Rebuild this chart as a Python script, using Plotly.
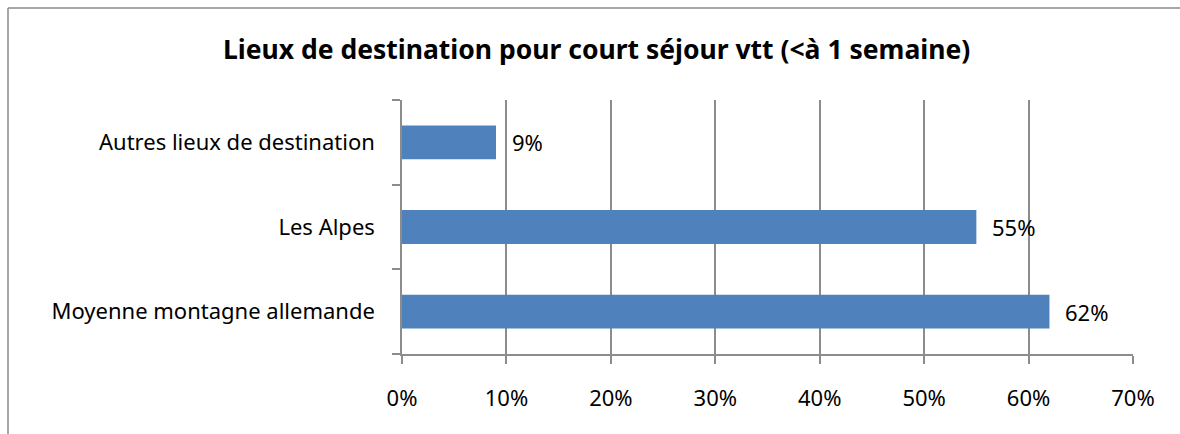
import plotly.graph_objects as go

categories = ["Moyenne montagne allemande", "Les Alpes", "Autres lieux de destination"]
values = [0.62, 0.55, 0.09]
value_labels = ["62%", "55%", "9%"]
x_ticks = [0, 0.1, 0.2, 0.3, 0.4, 0.5, 0.6, 0.7]
x_tick_labels = ["0%", "10%", "20%", "30%", "40%", "50%", "60%", "70%"]
title_text = "Lieux de destination pour court séjour vtt (<à 1 semaine)"

W, H = 1180, 434
L, R, T, B = 402, 47, 100, 80
FONT = "Noto Sans"
FS = 22
GRID = "#8c8c8c"

def px_x(p):
    return (p - L) / (W - L - R)

def px_y(p):
    return 1 - (p - T) / (H - T - B)

fig = go.Figure()
fig.add_trace(go.Bar(
    y=categories, x=values, orientation="h",
    marker=dict(color="#4F81BD", line=dict(width=0)),
    width=0.4, hoverinfo="skip",
))

for c, v, t in zip(categories, values, value_labels):
    fig.add_annotation(x=v, y=c, text=t, showarrow=False, xanchor="left",
                       yanchor="middle", xshift=14,
                       font=dict(family=FONT, size=FS, color="#000"))

fig.add_annotation(x=px_x(596), y=px_y(49), xref="paper", yref="paper",
                   text="<b>" + title_text + "</b>", showarrow=False,
                   xanchor="center", yanchor="middle",
                   font=dict(family=FONT, size=26.5, color="#000"))

# chart border (top and left visible)
fig.add_shape(type="line", xref="paper", yref="paper",
              x0=px_x(8), x1=px_x(1185), y0=px_y(8), y1=px_y(8),
              line=dict(color="#8a8a8a", width=1.5))
fig.add_shape(type="line", xref="paper", yref="paper",
              x0=px_x(8), x1=px_x(8), y0=px_y(8), y1=px_y(440),
              line=dict(color="#8a8a8a", width=1.5))

fig.update_layout(
    width=W, height=H,
    margin=dict(l=L, r=R, t=T, b=B),
    paper_bgcolor="white", plot_bgcolor="white",
    showlegend=False,
    font=dict(family=FONT, size=FS, color="#000"),
    xaxis=dict(range=[0, 0.7], tickvals=x_ticks, ticktext=x_tick_labels,
               showgrid=True, gridcolor=GRID, gridwidth=1.5,
               showline=True, linecolor=GRID, linewidth=1.5,
               ticks="outside", ticklen=8, tickcolor=GRID, tickwidth=1.5,
               zeroline=False, ticklabelstandoff=16,
               tickfont=dict(family=FONT, size=FS, color="#000")),
    yaxis=dict(categoryorder="array", categoryarray=categories,
               showgrid=False, showline=True, linecolor=GRID, linewidth=1.5,
               ticks="outside", ticklen=8, tickcolor=GRID, tickwidth=1.5,
               tickson="boundaries", zeroline=False, ticklabelstandoff=21,
               tickfont=dict(family=FONT, size=FS, color="#000")),
    bargap=0.6,
)

fig.write_html("out.html", config={"displayModeBar": False},
               post_script="document.body.style.margin='0px';")
